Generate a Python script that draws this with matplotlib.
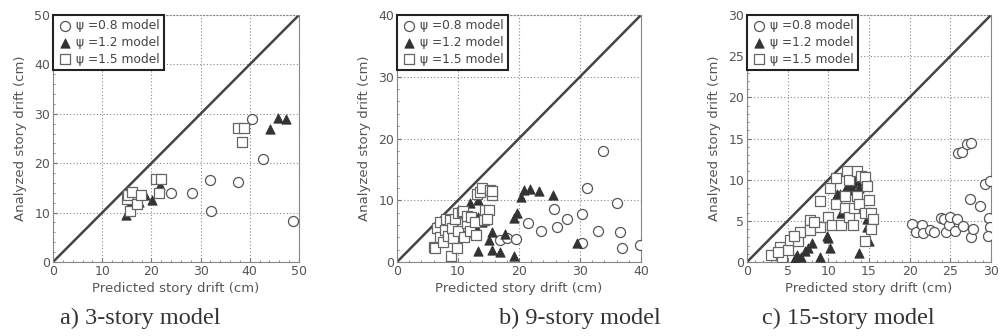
import matplotlib
matplotlib.use("Agg")
import matplotlib.pyplot as plt
from matplotlib.ticker import MultipleLocator

# ---- data ----
# a) 3-story model
a_c_x = [23.9, 28.2, 31.9, 32.1, 37.7, 40.4, 42.7, 48.8]
a_c_y = [13.9, 14.0, 16.7, 10.3, 16.1, 28.9, 20.9, 8.2]
a_t_x = [14.9, 15.6, 17.5, 18.8, 20.2, 21.7, 44.2, 45.8, 47.4]
a_t_y = [9.5, 11.8, 12.2, 13.5, 12.6, 15.5, 27.0, 29.2, 28.9]
a_s_x = [15.0, 15.3, 16.0, 15.7, 17.0, 17.8, 21.0, 22.0, 21.5, 37.7, 38.9, 38.5]
a_s_y = [12.8, 13.5, 14.2, 10.3, 11.8, 13.5, 16.9, 16.8, 13.9, 27.2, 27.2, 24.3]

# b) 9-story model
b_c_x = [16.9, 18.0, 19.5, 21.4, 23.6, 25.8, 26.3, 27.9, 30.4, 30.3, 31.1, 32.9,
         33.7, 36.1, 36.6, 36.9, 39.8]
b_c_y = [3.6, 3.9, 3.8, 6.3, 5.1, 8.6, 5.7, 7.0, 7.8, 3.1, 12.0, 5.1,
         18.0, 9.6, 4.8, 2.2, 2.8]
b_t_x = [9.8, 10.5, 11.4, 12.0, 12.5, 12.8, 13.2, 13.3, 13.9, 13.3, 15.0, 15.5,
         15.5, 16.9, 17.7, 19.1, 19.6, 19.1, 20.4, 20.8, 21.8, 23.3, 25.6, 29.5, 12.3]
b_t_y = [3.8, 4.6, 5.2, 9.5, 5.5, 6.0, 10.0, 7.3, 6.5, 1.8, 3.6, 4.9,
         1.9, 1.7, 4.6, 7.1, 7.9, 0.9, 10.6, 11.7, 11.9, 11.5, 10.8, 3.0, 4.8]
b_s_x = [6.0, 6.3, 6.5, 7.0, 7.0, 7.5, 7.8, 8.0, 8.3, 8.7, 8.8, 9.0, 9.2, 9.5,
         9.8, 10.0, 10.0, 10.6, 10.8, 11.0, 11.4, 11.5, 12.0, 12.2, 12.8, 13.0,
         13.1, 13.6, 14.0, 14.2, 14.5, 15.0, 15.2, 15.5, 15.6, 14.8]
b_s_y = [2.5, 2.2, 5.5, 4.0, 6.5, 3.2, 5.2, 7.0, 4.2, 6.8, 0.9, 5.5, 3.9, 7.0,
         2.3, 5.0, 8.0, 8.1, 8.2, 4.0, 6.3, 7.5, 5.0, 7.3, 6.5, 4.3,
         11.0, 11.4, 12.0, 6.8, 8.5, 8.4, 11.7, 10.9, 11.5, 7.0]

# c) 15-story model
c_c_x = [20.3, 20.8, 21.5, 21.7, 22.5, 23.0, 23.8, 24.2, 24.5, 24.8, 25.0, 25.6,
         25.8, 26.5, 25.9, 26.4, 27.1, 27.6, 27.4, 27.5, 27.8, 28.7, 29.3, 29.9,
         29.8, 29.9, 29.6]
c_c_y = [4.6, 3.6, 4.5, 3.5, 3.9, 3.7, 5.3, 5.2, 3.7, 4.5, 5.5, 3.8,
         5.2, 4.4, 13.2, 13.4, 14.3, 14.5, 7.6, 3.0, 4.0, 6.8, 9.5, 9.8,
         5.4, 4.2, 3.2]
c_t_x = [5.9, 6.2, 6.7, 7.1, 7.5, 8.0, 9.0, 9.8, 10.0, 10.2, 10.3, 10.9, 11.1,
         11.4, 12.0, 12.3, 12.6, 12.9, 13.2, 13.5, 13.8, 13.0, 13.8, 14.8, 14.8,
         15.0, 11.5]
c_t_y = [0.45, 0.8, 0.65, 1.3, 1.7, 2.3, 0.65, 3.1, 2.9, 1.7, 4.5, 7.3, 8.3,
         8.3, 8.5, 9.2, 9.0, 9.6, 10.0, 9.8, 9.0, 8.8, 1.1, 4.2, 5.2,
         2.5, 6.0]
c_s_x = [3.0, 4.1, 4.3, 5.1, 5.3, 6.3, 6.5, 7.7, 7.7, 9.0, 9.0, 10.0, 10.2,
         10.5, 11.0, 11.0, 11.5, 12.0, 12.0, 12.3, 12.5, 12.5, 13.0, 13.2, 13.5,
         13.5, 13.8, 14.0, 14.5, 14.5, 14.8, 15.0, 15.3, 15.5, 15.3, 14.5, 3.8,
         5.8, 8.2]
c_s_y = [0.85, 1.8, 0.65, 1.5, 2.7, 2.5, 3.6, 5.1, 3.9, 7.4, 4.3, 5.5, 9.0,
         4.5, 10.2, 7.0, 4.5, 6.5, 8.0, 11.0, 10.0, 5.5, 4.5, 6.5, 11.0,
         8.0, 7.0, 10.5, 10.3, 6.0, 9.2, 7.5, 6.0, 5.2, 4.0, 2.5, 1.2,
         3.2, 4.8]

labels = ["\u03c8 =0.8 model", "\u03c8 =1.2 model", "\u03c8 =1.5 model"]
captions = ["a) 3-story model", "b) 9-story model", "c) 15-story model"]
limits = [50, 40, 30]
majors = [10, 10, 5]
minors = [2, 2, 1]

panels = [
    (a_c_x, a_c_y, a_t_x, a_t_y, a_s_x, a_s_y),
    (b_c_x, b_c_y, b_t_x, b_t_y, b_s_x, b_s_y),
    (c_c_x, c_c_y, c_t_x, c_t_y, c_s_x, c_s_y),
]

plt.rcParams['font.family'] = ['DejaVu Sans']
txt_col = '#555555'

fig = plt.figure(figsize=(10.06, 3.36), dpi=100)
W, H = 1006.0, 336.0
# axes boxes in pixels (left, right), shared top/bottom
boxes = [(53, 299), (397, 641), (747, 991)]
top, bottom = 15, 262
cap_x = [140, 580, 848]

for i, (box, data) in enumerate(zip(boxes, panels)):
    l, r = box
    ax = fig.add_axes([l / W, (H - bottom) / H, (r - l) / W, (bottom - top) / H])
    lim = limits[i]
    cx, cy, tx, ty, sx, sy = data

    # 1:1 reference line
    ax.plot([0, lim], [0, lim], color='#444444', lw=1.8, zorder=2)
    ax.scatter(cx, cy, s=52, marker='o', facecolors='white', edgecolors='#555555',
               linewidths=0.9, zorder=3, label=labels[0])
    ax.scatter(tx, ty, s=45, marker='^', facecolors='#333333', edgecolors='#333333',
               linewidths=0.6, zorder=4, label=labels[1])
    ax.scatter(sx, sy, s=60, marker='s', facecolors='white', edgecolors='#666666',
               linewidths=0.9, zorder=5, label=labels[2])

    ax.set_xlim(0, lim)
    ax.set_ylim(0, lim)
    ax.xaxis.set_major_locator(MultipleLocator(majors[i]))
    ax.yaxis.set_major_locator(MultipleLocator(majors[i]))
    ax.xaxis.set_minor_locator(MultipleLocator(minors[i]))
    ax.yaxis.set_minor_locator(MultipleLocator(minors[i]))
    ax.tick_params(which='both', direction='in', colors='#777777', labelcolor=txt_col,
                   labelsize=9, pad=2)
    ax.tick_params(which='major', length=3)
    ax.tick_params(which='minor', length=1.5)
    ax.grid(True, which='major', linestyle=(0, (1, 2)), color='#888888', lw=0.8)
    for sp in ax.spines.values():
        sp.set_color('#888888')
        sp.set_linewidth(0.8)
    ax.spines['top'].set_linestyle((0, (1, 2)))

    ax.set_xlabel('Predicted story drift (cm)', fontsize=9.5, color=txt_col, labelpad=3)
    ax.set_ylabel('Analyzed story drift (cm)', fontsize=9.5, color=txt_col, labelpad=5)

    leg = ax.legend(loc='upper left', borderaxespad=0, fancybox=False, fontsize=8.8,
                    handletextpad=0.3, labelspacing=0.3, borderpad=0.35,
                    handlelength=1.2, framealpha=1)
    leg.get_frame().set_edgecolor('#222222')
    leg.get_frame().set_linewidth(1.5)
    for t in leg.get_texts():
        t.set_color('#444444')

    fig.text(cap_x[i] / W, 1 - 318 / H, captions[i], family='Liberation Serif',
             fontsize=17.5, color='#333333', ha='center', va='center')

fig.savefig('out.png', dpi=100)
